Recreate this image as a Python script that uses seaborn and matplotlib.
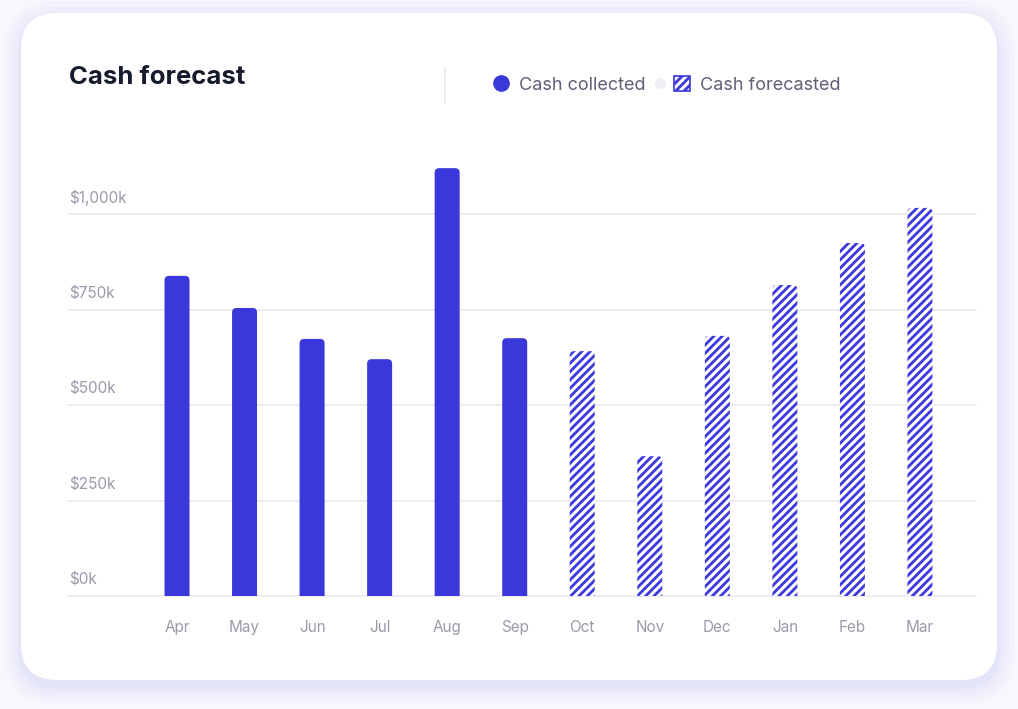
import matplotlib
matplotlib.use("Agg")
import matplotlib.pyplot as plt
from matplotlib.patches import FancyBboxPatch, Patch
from matplotlib.lines import Line2D
from matplotlib.transforms import IdentityTransform, blended_transform_factory
import seaborn as sns
import pandas as pd

# Chart data (values in $k)
months = ["Apr", "May", "Jun", "Jul", "Aug", "Sep", "Oct", "Nov", "Dec", "Jan", "Feb", "Mar"]
cash_values = [838, 754, 673, 620, 1120, 675, 641, 366, 681, 814, 924, 1016]
cash_kind = ["Cash collected"] * 6 + ["Cash forecasted"] * 6
y_ticks = [0, 250, 500, 750, 1000]
y_tick_labels = ["$0k", "$250k", "$500k", "$750k", "$1,000k"]

BLUE = "#3A37DB"
GRID = "#E9E9F0"
TICK = "#9A9AAB"
TITLE = "#161B2E"
LEGEND_TXT = "#5F6077"
BG = "#F7F7FD"

W, H = 1018, 709

sns.set_theme(style="white")
plt.rcParams["font.family"] = ["Inter", "DejaVu Sans"]
plt.rcParams["hatch.linewidth"] = 2.0
plt.rcParams["hatch.color"] = BLUE

fig = plt.figure(figsize=(W / 100, H / 100), dpi=100)
fig.patch.set_facecolor(BG)

# card shadow + card
for grow, alpha in [(18, 0.10), (12, 0.14), (7, 0.20), (3, 0.30)]:
    fig.add_artist(FancyBboxPatch(
        (21 - grow, 29 - grow - 6), 976 + 2 * grow, 667 + 2 * grow,
        boxstyle=f"round,pad=0,rounding_size={36 + grow}",
        transform=IdentityTransform(), facecolor="#D9D9F6", edgecolor="none",
        alpha=alpha, zorder=0))
fig.add_artist(FancyBboxPatch(
    (21, 29), 976, 667, boxstyle="round,pad=0,rounding_size=36",
    transform=IdentityTransform(), facecolor="white", edgecolor="none", zorder=1))

# axes positioned in pixels
ax_left, ax_right, ax_bottom, ax_top = 68, 976, 596, 156.7
ax = fig.add_axes([ax_left / W, (H - ax_bottom) / H,
                   (ax_right - ax_left) / W, (ax_bottom - ax_top) / H])
ax.set_facecolor("none")
ax.set_zorder(2)

df = pd.DataFrame({"month": months, "value": cash_values, "kind": cash_kind})
sns.barplot(data=df, x="month", y="value", hue="kind", dodge=False,
            palette={"Cash collected": BLUE, "Cash forecasted": "white"},
            width=0.37, legend=False, ax=ax)

ax.set_xlim(-1.614, 11.83)
ax.set_ylim(0, 1150)

# grid lines
for t in y_ticks:
    ax.axhline(t, color=GRID, lw=1.2, zorder=0, clip_on=False)

# rounded bar tops
fig.canvas.draw()
p0 = ax.transData.transform((0, 0))
p1 = ax.transData.transform((1, 1))
px_x, px_y = p1[0] - p0[0], p1[1] - p0[1]
aspect = px_x / px_y
r = 4.5 / px_x
for bar in list(ax.patches):
    x0, y0 = bar.get_x(), bar.get_y()
    w, h = bar.get_width(), bar.get_height()
    i = int(round(x0 + w / 2))
    forecast = cash_kind[i] == "Cash forecasted"
    bar.remove()
    extra = r * aspect
    box = FancyBboxPatch(
        (x0, y0 - extra), w, h + extra,
        boxstyle=f"round,pad=0,rounding_size={r}", mutation_aspect=aspect,
        facecolor="white" if forecast else BLUE,
        edgecolor=BLUE, linewidth=0, hatch="////" if forecast else None, zorder=3)
    ax.add_patch(box)

# y labels above grid lines
trans = blended_transform_factory(ax.transAxes, ax.transData)
ax.set_yticks([])
for t, lab in zip(y_ticks, y_tick_labels):
    ax.annotate(lab, (0, t), xycoords=trans, xytext=(0.5, 6), textcoords="offset points",
                ha="left", va="bottom", fontsize=11, color=TICK)

ax.set_xlabel("")
ax.set_ylabel("")
ax.tick_params(axis="x", length=0, pad=17, labelsize=11, labelcolor=TICK)
sns.despine(ax=ax, left=True, bottom=True)

# title, separator, legend
fig.text(69 / W, 1 - 77 / H, "Cash forecast", fontsize=18.5, fontweight="bold",
         color=TITLE, ha="left", va="center", zorder=4)
fig.add_artist(Line2D([445 / W, 445 / W], [1 - 68 / H, 1 - 103 / H], color=GRID,
                      lw=1.2, transform=fig.transFigure, zorder=4))
fig.add_artist(Line2D([660 / W], [1 - 83 / H], marker="o", ms=7, color="#EEF0F5",
                      ls="", transform=fig.transFigure, zorder=4))
handles = [
    Line2D([], [], marker="o", color=BLUE, ls="", markersize=11),
    Patch(facecolor="white", edgecolor=BLUE, hatch="////", lw=1.2),
]
leg = fig.legend(handles, ["Cash collected", "Cash forecasted"], loc="center left",
                 bbox_to_anchor=(493 / W, 1 - 85 / H), ncol=2, frameon=False,
                 fontsize=13, labelcolor=LEGEND_TXT, handlelength=0.9,
                 handleheight=0.9, handletextpad=0.55, columnspacing=1.55,
                 borderaxespad=0, borderpad=0)
leg.set_zorder(4)

fig.savefig("out.png", dpi=100, facecolor=BG)
